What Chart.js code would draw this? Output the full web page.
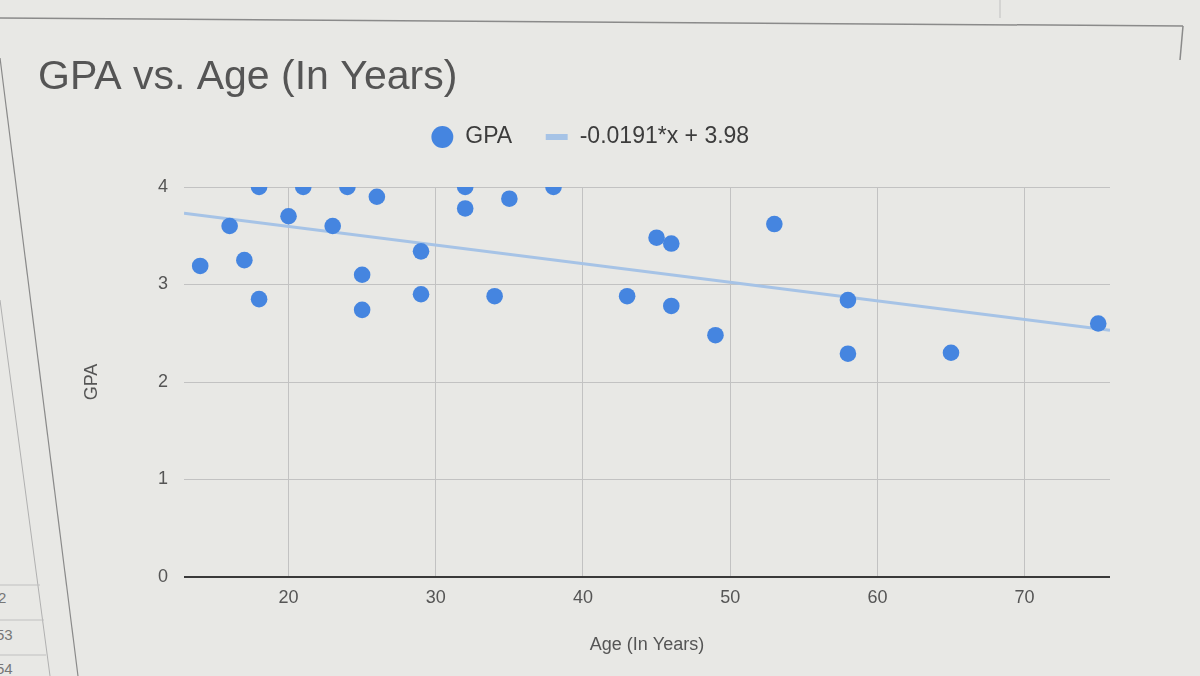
<!DOCTYPE html>
<html>
<head>
<meta charset="utf-8">
<script src="https://cdn.jsdelivr.net/npm/chart.js@4.4.1/dist/chart.umd.min.js"></script>
<style>
  html, body { margin: 0; padding: 0; background: #e8e8e5; }
  #wrap { position: relative; width: 1200px; height: 676px; overflow: hidden; background: #e8e8e5; }
  #frame { position: absolute; left: 0; top: 0; }
  #c { position: absolute; left: 0; top: 0; }
  .row { position: absolute; font-family: "Liberation Sans", Arial, sans-serif; font-size: 15px; color: #777; }
</style>
</head>
<body>
<div id="wrap">
  <svg id="frame" width="1200" height="676">
    <line x1="0" y1="18" x2="1183" y2="26" stroke="#8a8a8a" stroke-width="1.5"/>
    <line x1="1183" y1="26" x2="1180" y2="60" stroke="#8a8a8a" stroke-width="1.5"/>
    <line x1="0" y1="58" x2="78" y2="676" stroke="#8a8a8a" stroke-width="1.2"/>
    <line x1="0" y1="300" x2="50" y2="676" stroke="#b0b0b0" stroke-width="1"/>
    <line x1="0" y1="585" x2="40" y2="585" stroke="#c0c0c0" stroke-width="1"/>
    <line x1="0" y1="620" x2="44" y2="620" stroke="#c0c0c0" stroke-width="1"/>
    <line x1="0" y1="655" x2="46" y2="655" stroke="#c0c0c0" stroke-width="1"/>
    <line x1="1000" y1="0" x2="1000" y2="18" stroke="#c0c0c0" stroke-width="1"/>
  </svg>
  <div class="row" style="left:-2px; top:589px;">2</div>
  <div class="row" style="left:-4px; top:626px;">53</div>
  <div class="row" style="left:-4px; top:660px;">54</div>
  <canvas id="c" width="1200" height="676"></canvas>
</div>
<script>
// ---- data ----
const ages = [18, 21, 24, 26, 32, 32, 35, 38, 16, 20, 23, 29, 14, 17, 25, 18, 29, 34, 25, 53, 45, 46, 43, 46, 58, 49, 58, 65, 75];
const gpas = [4.0, 4.0, 4.0, 3.9, 4.0, 3.78, 3.88, 4.0, 3.6, 3.7, 3.6, 3.34, 3.19, 3.25, 3.1, 2.85, 2.9, 2.88, 2.74, 3.62, 3.48, 3.42, 2.88, 2.78, 2.84, 2.48, 2.29, 2.3, 2.6];
const trendAges = [12.9, 75.8];
const trendGpas = [3.73, 2.53];
const xTicks = [20, 30, 40, 50, 60, 70];
const yTicks = [0, 1, 2, 3, 4];
const chartTitle = 'GPA vs. Age (In Years)';
const seriesName = 'GPA';
const trendName = '-0.0191*x + 3.98';
const xTitle = 'Age (In Years)';
const yTitle = 'GPA';

const FONT = '"Liberation Sans", Arial, sans-serif';

const spacer = {
  id: 'spacer',
  beforeInit(chart) {
    Chart.layouts.addBox(chart, {
      position: 'top', weight: 0, fullSize: true,
      options: {},
      top: 0, left: 0, right: 0, bottom: 0, width: 0, height: 0,
      isHorizontal() { return true; },
      update(maxWidth) { this.width = maxWidth; this.height = 28.5; },
      draw() {}
    });
  }
};
const shiftLegend = {
  id: 'shiftLegend',
  afterLayout(chart) {
    if (chart.legend) { chart.legend.left += 16; chart.legend.right += 16; }
  }
};

new Chart(document.getElementById('c'), {
  type: 'scatter',
  data: {
    datasets: [
      {
        label: seriesName,
        data: ages.map((a, i) => ({ x: a, y: gpas[i] })),
        backgroundColor: '#4585e0',
        borderWidth: 0,
        pointRadius: 8.3,
        pointHoverRadius: 8.3,
        pointStyle: 'circle',
        clip: 0
      },
      {
        type: 'line',
        label: trendName,
        data: trendAges.map((a, i) => ({ x: a, y: trendGpas[i] })),
        borderColor: '#a6c3e6',
        backgroundColor: '#a6c3e6',
        borderWidth: 3,
        pointRadius: 0,
        pointStyle: 'line',
        fill: false
      }
    ]
  },
  plugins: [spacer, shiftLegend],
  options: {
    responsive: false,
    animation: false,
    events: [],
    layout: { padding: { left: 38, right: 90, top: 0, bottom: 0 } },
    plugins: {
      tooltip: { enabled: false },
      title: {
        display: true,
        text: chartTitle,
        align: 'start',
        color: '#555555',
        font: { family: FONT, size: 41, lineHeight: 0.7, weight: 'normal' },
        padding: { top: 63.8, bottom: 0 }
      },
      legend: {
        display: true,
        position: 'top',
        align: 'center',
        labels: {
          color: '#3c3c3c',
          font: { family: FONT, size: 23 },
          usePointStyle: true,
          boxHeight: 15.5,
          padding: 33,
          generateLabels(chart) {
            const items = Chart.defaults.plugins.legend.labels.generateLabels(chart);
            items.forEach((it, i) => {
              if (i === 1) { it.lineWidth = 6; it.strokeStyle = '#a6c3e6'; }
            });
            return items;
          }
        }
      }
    },
    scales: {
      x: {
        type: 'linear',
        min: 12.9,
        max: 75.8,
        afterBuildTicks(axis) { axis.ticks = xTicks.map(v => ({ value: v })); },
        afterFit(scale) { scale.height = 99; },
        border: { display: false },
        grid: { color: '#c2c2c2', lineWidth: 1, drawTicks: false },
        ticks: { color: '#555555', font: { family: FONT, size: 18 }, padding: 10, maxRotation: 0 },
        title: {
          display: true, text: xTitle, color: '#555555',
          font: { family: FONT, size: 18 }, padding: { top: 0, bottom: 20 }
        }
      },
      y: {
        type: 'linear',
        min: 0,
        max: 4,
        afterBuildTicks(axis) { axis.ticks = yTicks.map(v => ({ value: v })); },
        afterFit(scale) { scale.width = 146; },
        border: { display: false },
        grid: {
          color: (ctx) => (ctx.tick && ctx.tick.value === 0 ? '#3a3a3a' : '#c2c2c2'),
          lineWidth: (ctx) => (ctx.tick && ctx.tick.value === 0 ? 2 : 1),
          drawTicks: false
        },
        ticks: { color: '#555555', font: { family: FONT, size: 18 }, padding: 16 },
        title: {
          display: true, text: yTitle, color: '#555555',
          font: { family: FONT, size: 18 }, padding: { top: 43, bottom: 0 }
        }
      }
    }
  }
});
</script>
</body>
</html>
